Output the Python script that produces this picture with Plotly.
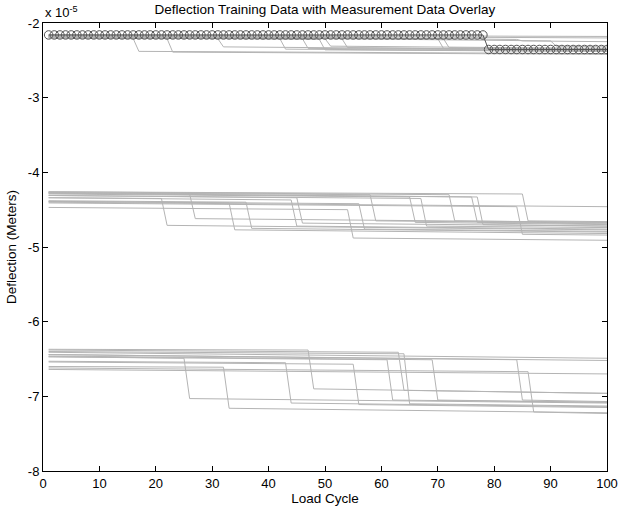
import plotly.graph_objects as go

# ---- data (deflection in units of 1e-5 m) ----
cycles_meas = list(range(1, 101))
meas_vals = [-2.16] * 78 + [-2.355] * 22

# group 1 (top band): drop cycle (None = no drop), value at cycle 1,
# value just before drop, value just after drop, value at cycle 100
g1_drop   = [16, 22, 31, 42, 46, 49, 50, 53, 70, 71, 84, 90, None, None]
g1_start  = [-2.20, -2.20, -2.19, -2.19, -2.18, -2.19, -2.18, -2.18, -2.17, -2.17, -2.17, -2.17, -2.16, -2.165]
g1_before = [-2.21, -2.21, -2.21, -2.21, -2.21, -2.22, -2.21, -2.21, -2.21, -2.21, -2.22, -2.24, None, None]
g1_after  = [-2.38, -2.39, -2.32, -2.35, -2.34, -2.36, -2.31, -2.33, -2.34, -2.33, -2.24, -2.31, None, None]
g1_end    = [-2.41, -2.42, -2.36, -2.38, -2.37, -2.38, -2.34, -2.36, -2.36, -2.35, -2.25, -2.32, -2.18, -2.20]

# group 2 (middle band)
g2_drop   = [21, 26, 33, 36, 44, 45, 54, 56, 58, 65, 67, 72, 76, 77, 84, 85, None]
g2_start  = [-4.34, -4.27, -4.39, -4.38, -4.34, -4.31, -4.47, -4.39, -4.27, -4.29, -4.31, -4.26, -4.28, -4.28, -4.41, -4.26, -4.40]
g2_before = [-4.35, -4.29, -4.41, -4.40, -4.37, -4.34, -4.50, -4.42, -4.30, -4.33, -4.35, -4.30, -4.33, -4.33, -4.46, -4.29, None]
g2_after  = [-4.71, -4.62, -4.77, -4.75, -4.72, -4.68, -4.88, -4.76, -4.65, -4.67, -4.72, -4.65, -4.67, -4.70, -4.83, -4.65, None]
g2_end    = [-4.77, -4.67, -4.82, -4.80, -4.76, -4.72, -4.91, -4.79, -4.68, -4.70, -4.74, -4.67, -4.69, -4.72, -4.84, -4.66, -4.46]

# group 3 (bottom band)
g3_drop   = [25, 32, 43, 47, 55, 61, 63, 64, 69, 84, 86, None, None, None]
g3_start  = [-6.47, -6.60, -6.53, -6.37, -6.54, -6.47, -6.38, -6.40, -6.46, -6.44, -6.62, -6.41, -6.44, -6.64]
g3_before = [-6.49, -6.61, -6.55, -6.38, -6.57, -6.51, -6.41, -6.43, -6.51, -6.51, -6.67, None, None, None]
g3_after  = [-7.03, -7.16, -7.09, -6.90, -7.11, -7.05, -6.92, -7.10, -7.05, -7.05, -7.21, None, None, None]
g3_end    = [-7.09, -7.22, -7.14, -6.96, -7.15, -7.08, -6.96, -7.13, -7.08, -7.07, -7.23, -6.49, -6.52, -6.70]

x_ticks = [0, 10, 20, 30, 40, 50, 60, 70, 80, 90, 100]
y_ticks = [-2, -3, -4, -5, -6, -7, -8]
y_tick_text = ["-2", "-3", "-4", "-5", "-6", "-7", "-8"]

FIRST, LAST = 1, 100

fig = go.Figure()

GRAY = "#b4b4b4"
for drops, starts, befores, afters, ends in [
    (g1_drop, g1_start, g1_before, g1_after, g1_end),
    (g2_drop, g2_start, g2_before, g2_after, g2_end),
    (g3_drop, g3_start, g3_before, g3_after, g3_end),
]:
    for k, s, b, a, e in zip(drops, starts, befores, afters, ends):
        if k is None:
            xs, ys = [FIRST, LAST], [s, e]
        else:
            xs, ys = [FIRST, k, k + 1, LAST], [s, b, a, e]
        fig.add_trace(go.Scatter(x=xs, y=ys, mode="lines",
                                 line=dict(color=GRAY, width=1),
                                 hoverinfo="skip", showlegend=False))

fig.add_trace(go.Scatter(
    x=cycles_meas, y=meas_vals, mode="lines+markers",
    line=dict(color="#555555", width=1),
    marker=dict(symbol="circle-open", size=8.5, color="#555555",
                line=dict(width=1, color="#555555")),
    showlegend=False))

FONT = "Liberation Sans, Arial, sans-serif"
axis_common = dict(showline=True, linecolor="black", linewidth=1, mirror="ticks",
                   ticks="inside", ticklen=5, tickcolor="black", tickwidth=1,
                   showgrid=False, zeroline=False, automargin=False,
                   ticklabeloverflow="allow",
                   tickfont=dict(family=FONT, size=13, color="black"))

fig.update_layout(
    width=620, height=509,
    margin=dict(l=43, r=13, t=23, b=38),
    paper_bgcolor="white", plot_bgcolor="white",
    title=dict(text="Deflection Training Data with Measurement Data Overlay",
               x=0.524, xanchor="center", y=0.982, yanchor="middle",
               font=dict(family=FONT, size=13.5, color="black")),
    xaxis=dict(range=[0, 100], tickvals=x_ticks, **axis_common,
               title=dict(text="Load Cycle", standoff=2,
                          font=dict(family=FONT, size=13.5, color="black"))),
    yaxis=dict(range=[-8, -2], tickvals=y_ticks, ticktext=y_tick_text, **axis_common,
               title=dict(text="Deflection (Meters)", standoff=8,
                          font=dict(family=FONT, size=13.5, color="black"))),
    showlegend=False,
)

fig.add_annotation(text="x 10<sup>-5</sup>", xref="paper", yref="paper",
                   x=0.0, y=1.0, xanchor="left", yanchor="bottom", yshift=1,
                   showarrow=False, font=dict(family=FONT, size=13, color="black"))

fig.write_html("out.html", config={"displayModeBar": False},
               post_script="document.body.style.margin='0';document.body.style.padding='0';")
